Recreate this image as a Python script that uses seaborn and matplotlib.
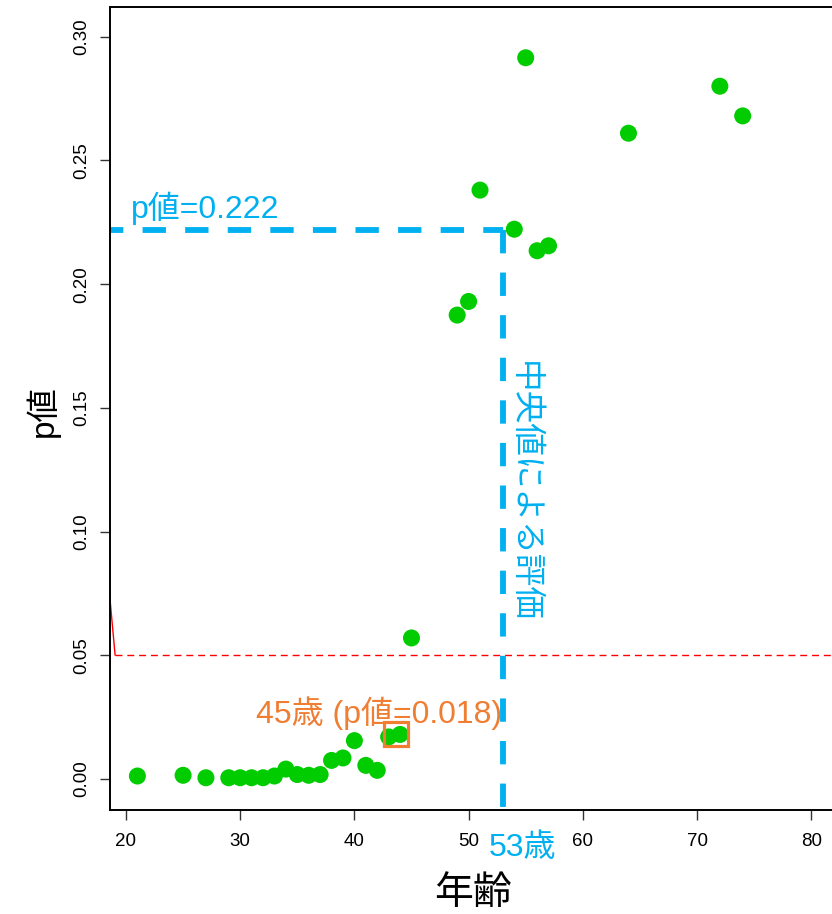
import matplotlib
matplotlib.use("Agg")
import matplotlib.pyplot as plt
import matplotlib.transforms as mtransforms
import pandas as pd
import seaborn as sns

# Age of each subject and the p-value obtained when that age is used as cut-off
ages = [21, 25, 27, 29, 30, 31, 32, 33, 34, 35, 36, 37, 38, 39, 40, 41, 42,
        43, 44, 45, 49, 50, 51, 54, 55, 56, 57, 64, 72, 74]
p_values = [0.0012, 0.0015, 0.0005, 0.0005, 0.0005, 0.0005, 0.0005, 0.0012,
            0.0040, 0.0018, 0.0015, 0.0018, 0.0075, 0.0085, 0.0155, 0.0055,
            0.0035, 0.0170, 0.0180, 0.0570, 0.1875, 0.1930, 0.2380, 0.2222,
            0.2915, 0.2135, 0.2155, 0.2610, 0.2800, 0.2680]

# Evaluation at the median age
median_age = 53
median_p = 0.222

# Best cut-off highlighted
best_age_label = 45
best_point_age = 44
best_p = 0.018

# Significance threshold
alpha = 0.05
threshold_lead_x = [18.0, 19.05]
threshold_lead_y = [0.103, 0.05]

x_ticks = [20, 30, 40, 50, 60, 70, 80]
y_ticks = [0.00, 0.05, 0.10, 0.15, 0.20, 0.25, 0.30]

GREEN = "#00CC00"
BLUE = "#00B0F0"
ORANGE = "#EF7D32"

sns.set_theme(style="white")
FAMILY = ["Liberation Sans", "Noto Sans CJK JP", "DejaVu Sans"]
plt.rcParams["font.family"] = FAMILY
JP = ["Noto Sans CJK JP", "DejaVu Sans"]

df = pd.DataFrame({"age": ages, "p": p_values})

fig = plt.figure(figsize=(8.32, 9.14), dpi=100)
ax = fig.add_axes([0.1322, 0.1138, 0.8774, 0.8785])

sns.scatterplot(data=df, x="age", y="p", ax=ax, color=GREEN, s=150,
                edgecolor="none", zorder=3, legend=False)

# significance threshold
ax.plot(threshold_lead_x, threshold_lead_y, color="#FF0000", lw=1.0, zorder=2)
ax.plot([threshold_lead_x[-1], 90], [alpha, alpha], color="#FF0000", lw=1.0,
        dashes=(5, 3.5), zorder=2)

# median evaluation guides
ax.plot([17.72, median_age], [median_p, median_p], color=BLUE, lw=4.2,
        dashes=(4.0, 3.3), solid_capstyle="butt", dash_capstyle="butt", zorder=2)
ax.plot([median_age, median_age], [median_p, -0.05], color=BLUE, lw=4.2,
        dashes=(4.0, 3.3), dash_capstyle="butt", zorder=2)

ax.text(20.4, median_p + 0.0088, f"p値={median_p:.3f}", color=BLUE,
        fontsize=23, family=FAMILY, ha="left", va="center")
ax.text(54.85, 0.116, "中央値による評価", color=BLUE, fontsize=23.5,
        family=JP, rotation=-90, ha="center", va="center")

trans = mtransforms.blended_transform_factory(ax.transData, fig.transFigure)
ax.text(median_age + 1.7, 1 - 848 / 914, f"{median_age}歳", color=BLUE,
        fontsize=23, family=FAMILY, ha="center", va="center", transform=trans)

# best cut-off
ax.plot([best_point_age - 0.35], [best_p], marker="s", markersize=17,
        markerfacecolor="none", markeredgecolor=ORANGE, markeredgewidth=2.3,
        zorder=4, linestyle="none")
ax.text(42.15, 0.0267, f"{best_age_label}歳 (p値={best_p:.3f})", color=ORANGE,
        fontsize=23, family=FAMILY, ha="center", va="center")

ax.set_xlim(18.6, 82.52)
ax.set_ylim(-0.01253, 0.3120)
ax.set_xticks(x_ticks)
ax.set_yticks(y_ticks)
ax.set_xticklabels([str(t) for t in x_ticks])
ax.set_yticklabels([f"{t:.2f}" for t in y_ticks])
ax.set_xlabel("")
ax.set_ylabel("")

ax.tick_params(axis="both", direction="out", length=7.5, width=1.0,
               color="#333333", labelsize=13.5, labelcolor="black",
               bottom=True, left=True, top=False, right=False)
ax.tick_params(axis="x", pad=9)
ax.tick_params(axis="y", pad=7)
for lbl in ax.get_yticklabels():
    lbl.set_rotation(90)
    lbl.set_va("center")

for side in ["top", "left", "bottom"]:
    ax.spines[side].set_visible(True)
    ax.spines[side].set_color("black")
    ax.spines[side].set_linewidth(1.4)
ax.spines["right"].set_visible(False)

fig.text(473 / 832, 1 - 893 / 914, "年齢", fontsize=28, family=JP,
         ha="center", va="center", color="black")
fig.text(43 / 832, 1 - 411 / 914, "p値", fontsize=24, family=FAMILY,
         ha="center", va="center", rotation=90, color="black")

fig.savefig("out.png", dpi=100)
